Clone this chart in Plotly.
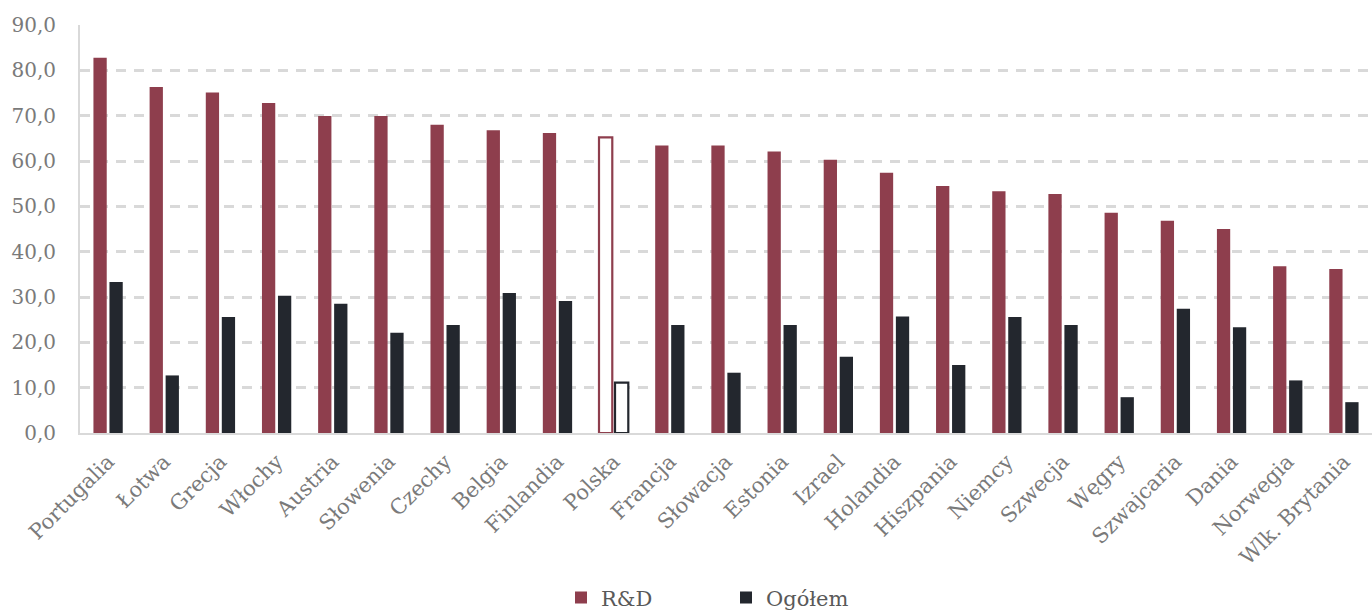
import plotly.graph_objects as go

countries = ["Portugalia", "Łotwa", "Grecja", "Włochy", "Austria", "Słowenia", "Czechy",
             "Belgia", "Finlandia", "Polska", "Francja", "Słowacja", "Estonia", "Izrael",
             "Holandia", "Hiszpania", "Niemcy", "Szwecja", "Węgry", "Szwajcaria", "Dania",
             "Norwegia", "Wlk. Brytania"]
rd_values = [82.8, 76.3, 75.1, 72.8, 69.9, 69.9, 68.0, 66.8, 66.2, 65.2, 63.4, 63.4, 62.1,
             60.3, 57.4, 54.5, 53.3, 52.7, 48.6, 46.8, 45.0, 36.8, 36.2]
total_values = [33.3, 12.7, 25.6, 30.3, 28.5, 22.1, 23.8, 30.9, 29.1, 11.1, 23.8, 13.3, 23.8,
                16.8, 25.7, 15.0, 25.6, 23.8, 7.9, 27.4, 23.3, 11.6, 6.8]
y_ticks = [0, 10, 20, 30, 40, 50, 60, 70, 80, 90]
y_tick_labels = ["0,0", "10,0", "20,0", "30,0", "40,0", "50,0", "60,0", "70,0", "80,0", "90,0"]
highlight = "Polska"

RD_COLOR = "#8E3E4D"
TOTAL_COLOR = "#23272E"
FONT = "DejaVu Serif"


def styled(color):
    fills = ["#FFFFFF" if c == highlight else color for c in countries]
    widths = [2.2 if c == highlight else 0 for c in countries]
    return fills, widths


rd_fill, rd_lw = styled(RD_COLOR)
tot_fill, tot_lw = styled(TOTAL_COLOR)

fig = go.Figure()
fig.add_trace(go.Bar(
    x=countries, y=rd_values, name="R&D",
    marker=dict(color=rd_fill, line=dict(color=RD_COLOR, width=rd_lw)),
))
fig.add_trace(go.Bar(
    x=countries, y=total_values, name="Ogółem",
    marker=dict(color=tot_fill, line=dict(color=TOTAL_COLOR, width=tot_lw)),
))

fig.update_layout(
    width=1372, height=610,
    margin=dict(l=80, r=0, t=25, b=177),
    paper_bgcolor="white", plot_bgcolor="white",
    barmode="group", bargap=0.43, bargroupgap=0.17,
    font=dict(family=FONT, size=19, color="#7A7A7A"),
    showlegend=True,
    legend=dict(orientation="h", x=0.5, xanchor="center",
                yref="container", y=0.02, yanchor="middle",
                font=dict(size=21, color="#595959"), entrywidth=120,
                itemwidth=30, traceorder="normal"),
)
fig.update_xaxes(
    tickangle=-45, showgrid=False, showline=True, linecolor="#D9D9D9", linewidth=2,
    tickfont=dict(size=21, color="#7A7A7A"), ticks="", ticklabelstandoff=6,
    automargin=False,
)
fig.update_yaxes(
    range=[0, 90], tickvals=y_ticks, ticktext=y_tick_labels,
    showgrid=True, gridcolor="#D9D9D9", gridwidth=2.5, griddash="10px,8px",
    showline=True, linecolor="#D9D9D9", linewidth=2, zeroline=False,
    tickfont=dict(size=20, color="#7A7A7A"), ticklabelstandoff=18,
    automargin=False,
)

fig.write_html("out.html")
